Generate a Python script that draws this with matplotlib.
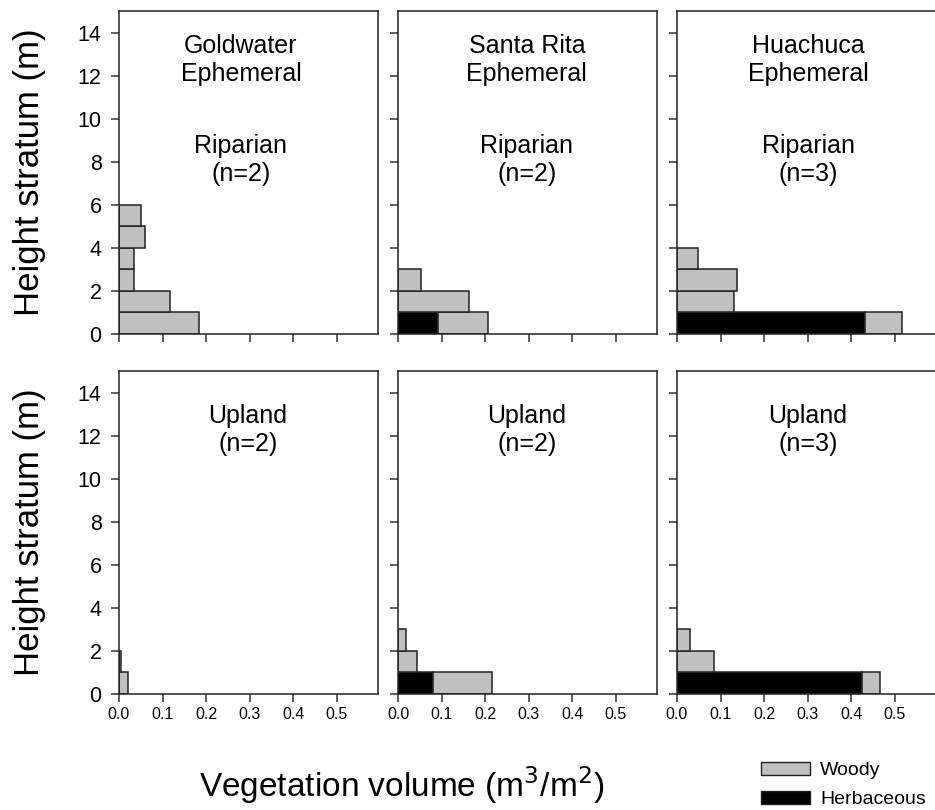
import matplotlib
matplotlib.use("Agg")
import matplotlib.pyplot as plt
import numpy as np
from matplotlib.patches import Patch

plt.rcParams["font.family"] = ["Liberation Sans", "DejaVu Sans"]

SITES = ["Goldwater\nEphemeral", "Santa Rita\nEphemeral", "Huachuca\nEphemeral"]
HABITATS = ["Riparian", "Upland"]
N_SAMPLES = [[2, 2, 3], [2, 2, 3]]

# vegetation volume (m3/m2) per 1 m height stratum, starting at 0-1 m
riparian_woody = [
    [0.183, 0.118, 0.034, 0.034, 0.060, 0.050],
    [0.115, 0.164, 0.052],
    [0.085, 0.131, 0.137, 0.048],
]
riparian_herb = [
    [0.0, 0.0, 0.0, 0.0, 0.0, 0.0],
    [0.092, 0.0, 0.0],
    [0.431, 0.0, 0.0, 0.0],
]
upland_woody = [
    [0.021, 0.004],
    [0.136, 0.044, 0.018],
    [0.042, 0.086, 0.031],
]
upland_herb = [
    [0.0, 0.0],
    [0.081, 0.0, 0.0],
    [0.424, 0.0, 0.0],
]

WOODY_COLOR = "#c0c0c0"
HERB_COLOR = "#000000"
EDGE = "#222222"

fig = plt.figure(figsize=(9.35, 8.1), dpi=100)

col_left = [119, 398, 677]
row_bottom = [334, 694]
W, H = 935, 810
aw, ah = 259, 323
text_x = [[0.28, 0.296, 0.301], [0.296, 0.296, 0.301]]

data = [(riparian_woody, riparian_herb), (upland_woody, upland_herb)]

for r in range(2):
    woody_all, herb_all = data[r]
    for c in range(3):
        ax = fig.add_axes([col_left[c] / W, 1 - row_bottom[r] / H, aw / W, ah / H])
        woody = np.array(woody_all[c])
        herb = np.array(herb_all[c])
        bottoms = np.arange(len(woody))
        ax.barh(bottoms, herb, height=1.0, align="edge", color=HERB_COLOR,
                edgecolor=EDGE, linewidth=1.1)
        ax.barh(bottoms, woody, left=herb, height=1.0, align="edge",
                color=WOODY_COLOR, edgecolor=EDGE, linewidth=1.1)
        ax.set_xlim(0, 0.595)
        ax.set_ylim(0, 15)
        ax.set_xticks(np.arange(0, 0.51, 0.1))
        ax.set_yticks(np.arange(0, 15, 2))
        ax.tick_params(direction="out", length=5.5, width=1.1, color="#333333")
        ax.tick_params(axis="x", pad=4)
        ax.tick_params(axis="y", pad=7)
        for s in ax.spines.values():
            s.set_linewidth(1.1)
            s.set_color("#222222")
        if r == 1:
            ax.set_xticklabels([f"{v:.1f}" for v in np.arange(0, 0.51, 0.1)], fontsize=11.5)
        else:
            ax.set_xticklabels([])
        if c == 0:
            ax.tick_params(axis="y", labelsize=15.5)
        else:
            ax.set_yticklabels([])
        if r == 0:
            ax.text(text_x[r][c], 12.73, SITES[c], ha="center", va="center", fontsize=18,
                    linespacing=1.2)
            ax.text(text_x[r][c], 8.08, f"{HABITATS[r]}\n(n={N_SAMPLES[r][c]})", ha="center",
                    va="center", fontsize=18, linespacing=1.2)
        else:
            ax.text(text_x[r][c], 12.26, f"{HABITATS[r]}\n(n={N_SAMPLES[r][c]})", ha="center",
                    va="center", fontsize=18, linespacing=1.2)

for yc in [172.5, 532.5]:
    fig.text(30 / W, 1 - yc / H, "Height stratum (m)", rotation=90, ha="center",
             va="center", fontsize=25)

fig.text(402 / W, 1 - 785 / H, "Vegetation volume (m$^3$/m$^2$)", ha="center",
         va="center", fontsize=24)

handles = [Patch(facecolor=WOODY_COLOR, edgecolor=EDGE, label="Woody"),
           Patch(facecolor=HERB_COLOR, edgecolor=EDGE, label="Herbaceous")]
fig.legend(handles=handles, loc="center left", bbox_to_anchor=(761 / W, 1 - 785 / H),
           frameon=False, fontsize=14, handlelength=2.5, handleheight=0.65,
           labelspacing=0.6, handletextpad=0.55, borderpad=0, borderaxespad=0)

fig.savefig("out.png", dpi=100)
